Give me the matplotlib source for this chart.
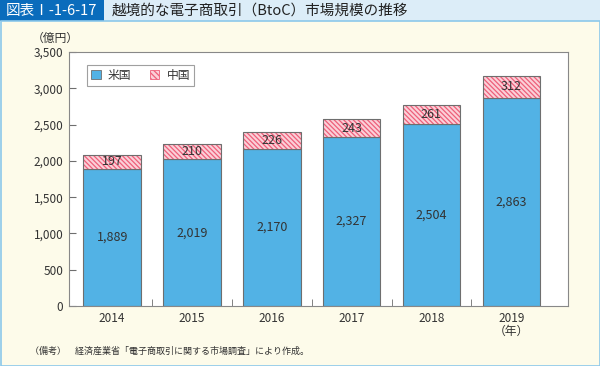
import matplotlib
matplotlib.use("Agg")
import matplotlib.pyplot as plt
from matplotlib.patches import Rectangle, Patch

plt.rcParams['font.family'] = ['Noto Sans CJK JP', 'DejaVu Sans']
plt.rcParams['hatch.linewidth'] = 0.9

years = ["2014", "2015", "2016", "2017", "2018", "2019\n（年）"]
us = [1889, 2019, 2170, 2327, 2504, 2863]
china = [197, 210, 226, 243, 261, 312]

blue = '#52b2e5'
pink = '#fbd0d8'
stripe = '#ee5f7a'
edge = '#6e6e6e'
txt = '#333333'

fig = plt.figure(figsize=(6, 3.66), dpi=100)
fig.patch.set_facecolor('#fdfbea')

# title bar
fig.patches.append(Rectangle((0, 1 - 21/366), 1, 21/366, transform=fig.transFigure,
                             facecolor='#dcedf8', edgecolor='none', zorder=0))
fig.patches.append(Rectangle((0, 1 - 21/366), 104/600, 21/366, transform=fig.transFigure,
                             facecolor='#0a6cbc', edgecolor='none', zorder=1))
fig.patches.append(Rectangle((0.5/600, 0.5/366), 599/600, (366 - 21.5)/366, transform=fig.transFigure,
                             facecolor='none', edgecolor='#8cc8ea', linewidth=1.2, zorder=1))
fig.text(6/600, 1 - 10.5/366, "図表Ⅰ-1-6-17", color='white', fontsize=10.5,
         va='center', ha='left', zorder=3)
fig.text(112/600, 1 - 10.5/366, "越境的な電子商取引（BtoC）市場規模の推移", color='#222222',
         fontsize=10.5, va='center', ha='left', zorder=3)

ax = fig.add_axes([69/600, 1 - 306/366, 499/600, 254/366])
ax.set_facecolor('white')
x = list(range(len(years)))
w = 0.72
ax.bar(x, us, w, color=blue, edgecolor=edge, linewidth=0.8, zorder=2)
# hatch takes the edge colour, so stripes first, outline on top
ax.bar(x, china, w, bottom=us, color=pink, edgecolor=stripe, linewidth=0,
       hatch='\\\\\\\\\\\\\\', zorder=2)
ax.bar(x, china, w, bottom=us, color='none', edgecolor=edge, linewidth=0.8, zorder=2.5)

for i in x:
    ax.text(i, us[i] / 2, f"{us[i]:,}", ha='center', va='center', fontsize=9, color=txt, zorder=3)
    ax.text(i, us[i] + china[i] / 2, f"{china[i]:,}", ha='center', va='center',
            fontsize=9, color=txt, zorder=3)

ax.set_xlim(-0.54, 5.71)
ax.set_ylim(0, 3500)
ax.set_yticks(range(0, 3501, 500))
ax.set_yticklabels([f"{v:,}" for v in range(0, 3501, 500)], fontsize=8.5, color=txt)
ax.set_xticks(x)
ax.set_xticklabels(years, fontsize=8.5, color=txt, linespacing=1.0)
ax.set_xticks([i + 0.5 for i in x[:-1]], minor=True)
ax.tick_params(axis='x', which='major', length=0, pad=4)
ax.tick_params(axis='x', which='minor', direction='in', length=5, color=edge)
ax.tick_params(axis='y', direction='in', length=5, color=edge, pad=4)
for s in ax.spines.values():
    s.set_color('#888888')
    s.set_linewidth(0.8)

handles = [Patch(facecolor=blue, edgecolor=edge, linewidth=0.6, label='米国'),
           Patch(facecolor=pink, edgecolor=stripe, linewidth=0.6, hatch='\\\\\\\\\\\\', label='中国')]
leg = ax.legend(handles=handles, loc='upper left', bbox_to_anchor=(0.036, 0.95), ncol=2,
                fontsize=8.5, frameon=True, fancybox=False, handlelength=0.8, handleheight=0.8,
                handletextpad=0.6, columnspacing=1.6, borderpad=0.35, borderaxespad=0)
leg.get_frame().set_edgecolor('#888888')
leg.get_frame().set_linewidth(0.8)
for t in leg.get_texts():
    t.set_color(txt)

fig.text(55/600, 1 - 38/366, "（億円）", fontsize=8.5, color=txt, ha='center', va='center')
fig.text(30/600, 1 - 351/366, "（備考）　経済産業省「電子商取引に関する市場調査」により作成。",
         fontsize=6.5, color=txt, ha='left', va='center')

fig.savefig("out.png", dpi=100, facecolor=fig.get_facecolor())
